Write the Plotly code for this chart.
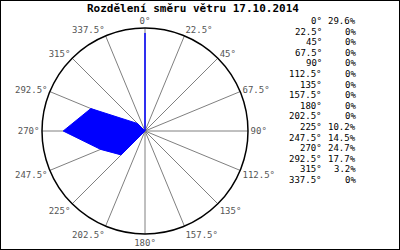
import plotly.graph_objects as go

directions = [0, 22.5, 45, 67.5, 90, 112.5, 135, 157.5, 180, 202.5, 225, 247.5, 270, 292.5, 315, 337.5]
dir_labels = ["0°", "22.5°", "45°", "67.5°", "90°", "112.5°", "135°", "157.5°", "180°",
              "202.5°", "225°", "247.5°", "270°", "292.5°", "315°", "337.5°"]
percent = [29.6, 0, 0, 0, 0, 0, 0, 0, 0, 0, 10.2, 14.5, 24.7, 17.7, 3.2, 0]
title_text = "Rozdělení směru větru 17.10.2014"

W, H = 400, 250
mono = "DejaVu Sans Mono"

fig = go.Figure()
fig.add_trace(go.Scatterpolar(
    r=percent + [percent[0]],
    theta=directions + [directions[0]],
    mode="lines",
    fill="toself",
    fillcolor="#0000ff",
    line=dict(color="#0000ff", width=1),
    hoverinfo="skip",
))

cx, cy, rad = 145, 131, 103
fig.update_layout(
    width=W, height=H,
    margin=dict(l=0, r=0, t=0, b=0),
    paper_bgcolor="white",
    plot_bgcolor="white",
    showlegend=False,
    polar=dict(
        domain=dict(x=[(cx - rad) / W, (cx + rad) / W], y=[(H - cy - rad) / H, (H - cy + rad) / H]),
        bgcolor="white",
        angularaxis=dict(
            direction="clockwise", rotation=90,
            tickmode="array", tickvals=directions, ticktext=dir_labels,
            showgrid=True, gridcolor="#808080", gridwidth=1,
            showline=True, linecolor="black", linewidth=1.5,
            ticks="", tickfont=dict(family=mono, size=9, color="#555555"),
        ),
        radialaxis=dict(range=[0, 31.1], visible=False, showgrid=False),
    ),
    annotations=[dict(
        text="<b>" + title_text + "</b>", x=193 / W, y=1 - 8 / H, xref="paper", yref="paper",
        xanchor="center", yanchor="middle", showarrow=False,
        font=dict(family=mono, size=11, color="black"),
    )],
    shapes=[dict(type="rect", xref="paper", yref="paper", x0=0, x1=1, y0=0, y1=1,
                 line=dict(color="black", width=2))],
)

for i, (lab, v) in enumerate(zip(dir_labels, percent)):
    yy = 1 - (21 + i * 10.6) / H
    fig.add_annotation(text=lab, x=324 / W, y=yy, xref="paper", yref="paper",
                       xanchor="right", yanchor="middle", showarrow=False,
                       font=dict(family=mono, size=9, color="black"))
    fig.add_annotation(text=f"{v:g}%", x=358 / W, y=yy, xref="paper", yref="paper",
                       xanchor="right", yanchor="middle", showarrow=False,
                       font=dict(family=mono, size=9, color="black"))

fig.write_html("out.html")
